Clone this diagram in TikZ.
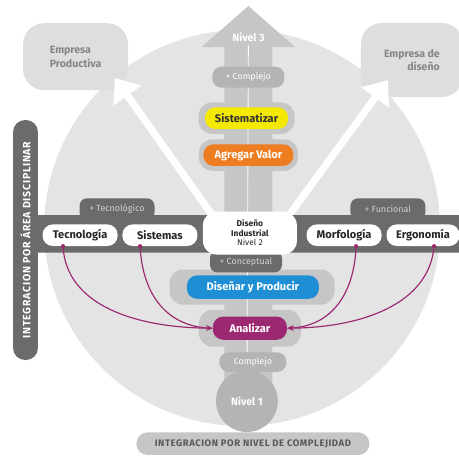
\documentclass[tikz,border=0pt]{standalone}
\usepackage{fontspec}
\setmainfont{Fira Sans}
\setsansfont{Fira Sans}
\usetikzlibrary{arrows.meta, calc}
\definecolor{c1}{HTML}{6B6B6B}
\definecolor{c2}{HTML}{E4E4E4}
\definecolor{c3}{HTML}{C6C6C6}
\definecolor{c4}{HTML}{B4B4B4}
\definecolor{c5}{HTML}{DEDEDE}
\definecolor{amar}{HTML}{F4E900}
\definecolor{nara}{HTML}{EE7D22}
\definecolor{azul}{HTML}{1E8FD5}
\definecolor{morado}{HTML}{9B2870}
\definecolor{textgray}{HTML}{858585}

\begin{document}
\begin{tikzpicture}[
    every node/.style={font=\sffamily},
    pill/.style={rectangle, rounded corners=0.34cm, minimum height=0.72cm,
                 inner sep=2pt, font=\sffamily\bfseries\fontsize{10.5}{12}\selectfont},
    area/.style={pill, fill=white, text=black!85, minimum width=2.5cm},
    paso/.style={pill, text=white},
    halo/.style={rectangle, rounded corners=0.45cm, fill=c3},
    tab/.style={rectangle, rounded corners=0.25cm, fill=c1, text=c3!80,
                minimum height=0.72cm, minimum width=2.5cm,
                font=\sffamily\fontsize{8.5}{10}\selectfont},
    gris/.style={rectangle, rounded corners=0.3cm, fill=c4, text=white,
                 minimum height=0.65cm, font=\sffamily\fontsize{8.5}{10}\selectfont},
    empresa/.style={rectangle, rounded corners=0.7cm, fill=c5, text=textgray,
                    font=\sffamily\bfseries\fontsize{10}{13}\selectfont},
    flecha/.style={-{Triangle[length=0.72cm, width=1.10cm]}, white, line width=0.24cm},
    liga/.style={-{Stealth[length=6pt, width=5pt]}, morado, line width=1.1pt},
]
\useasboundingbox (0,0) rectangle (15.30,15.17);

% fondo
\fill[c2] (8.07,7.57) circle (6.60);

\node[empresa, minimum width=3.50cm, minimum height=2.23cm, align=left] (ep)
     at (2.52,13.28) {Empresa\\Productiva};
\node[empresa, minimum width=3.40cm, minimum height=2.47cm, align=right] (ed)
     at (13.73,13.17) {Empresa de\\dise\~no};

% ============================================================ eje vertical
\fill[c3] (7.48,1.83) -- (7.48,13.60) -- (6.72,13.60) -- (8.28,14.97)
          -- (9.84,13.60) -- (9.08,13.60) -- (9.08,1.83) -- cycle;
\node[text=white, font=\sffamily\bfseries\fontsize{10}{12}\selectfont] (n3)
     at (8.28,13.93) {Nivel 3};

\node[halo, minimum width=3.20cm, minimum height=1.05cm] (hsis) at (8.22,11.23) {};
\node[halo, minimum width=3.30cm, minimum height=1.05cm] (hagr) at (8.28,10.00) {};
\node[halo, minimum width=5.50cm, minimum height=1.17cm] (hdip) at (8.40,5.60) {};
\node[halo, minimum width=3.40cm, minimum height=1.23cm] (hana) at (8.33,4.23) {};

\node[circle, fill=c4, minimum size=2.06cm, text=white,
      font=\sffamily\bfseries\fontsize{10}{12}\selectfont] (n1) at (8.23,1.80) {Nivel 1};

\draw[white, line width=0.8pt] (n3) -- (n1);

% flechas a las empresas
\coordinate (baseL) at (7.13,7.92);
\coordinate (baseR) at (9.58,7.92);
\coordinate (puntaL) at (3.83,12.57);
\coordinate (puntaR) at (12.93,12.50);
\draw[flecha] (baseL) -- (puntaL);
\draw[flecha] (baseR) -- (puntaR);

% ========================================================= banda horizontal
\node[tab] (ttec) at (3.90,8.20) {+ Tecnol\'ogico};
\node[tab] (tfun) at (12.93,8.20) {+ Funcional};
\node[tab, minimum width=2.40cm] (tcon) at (8.20,6.45) {+ Conceptual};
\fill[c1, rounded corners=0.30cm] (0.90,6.75) rectangle (15.70,8.00);

\node[rectangle, rounded corners=0.40cm, fill=c1, text=white, rotate=90,
      minimum width=8.00cm, minimum height=0.83cm,
      font=\sffamily\bfseries\fontsize{10}{11}\selectfont\addfontfeatures{LetterSpace=7}] (barra)
     at (0.85,7.17) {INTEGRACION POR \'AREA DISCIPLINAR};

\node[area] (tec) at (2.67,7.33) {Tecnolog\'ia};
\node[area] (sist) at (5.33,7.33) {Sistemas};
\node[area] (mor) at (11.47,7.33) {Morfolog\'ia};
\node[area, minimum width=2.43cm] (erg) at (14.10,7.33) {Ergonom\'ia};
\node[rectangle, rounded corners=0.45cm, fill=white, text=black!85,
      minimum width=3.13cm, minimum height=1.43cm, align=center,
      font=\sffamily\bfseries\fontsize{8}{9}\selectfont] (dis)
     at (8.33,7.40) {Dise\~no\\Industrial\\{\mdseries Nivel 2}};

% ================================================================ pasos
\node[gris, minimum width=2.40cm, minimum height=0.70cm] (cmp) at (8.28,12.60) {+ Complejo};
\node[pill, fill=amar, text=black!80, minimum width=2.77cm] (sis) at (8.22,11.23) {Sistematizar};
\node[paso, fill=nara, minimum width=3.00cm] (agr) at (8.28,10.00) {Agregar Valor};
\node[paso, fill=azul, minimum width=4.40cm, minimum height=0.78cm] (dip) at (8.43,5.60) {Dise\~nar y Producir};
\node[paso, fill=morado, minimum width=2.47cm, minimum height=0.77cm] (ana) at (8.33,4.23) {Analizar};
\node[gris, minimum width=2.23cm] (cpj) at (8.43,3.10) {Complejo};

\node[rectangle, rounded corners=0.37cm, fill=c3, text=black!65,
      minimum width=7.77cm, minimum height=0.75cm,
      font=\sffamily\bfseries\fontsize{9}{10}\selectfont\addfontfeatures{LetterSpace=6}] (pie)
     at (8.43,0.38) {INTEGRACION POR NIVEL DE COMPLEJIDAD};

% relaciones hacia analizar
\draw[liga] ([xshift=-0.57cm]tec.south) .. controls (2.20,5.00) and (4.50,4.25) .. (ana.west);
\draw[liga] ([xshift=-0.66cm]sist.south) .. controls (4.75,5.30) and (5.60,4.30) .. (ana.west);
\draw[liga] ([xshift=0.40cm]mor.south) .. controls (11.80,5.30) and (11.00,4.30) .. (ana.east);
\draw[liga] ([xshift=0.37cm]erg.south) .. controls (14.30,5.00) and (12.00,4.25) .. (ana.east);
\fill[morado] ([xshift=-0.57cm]tec.south) circle (2pt);
\fill[morado] ([xshift=-0.66cm]sist.south) circle (2pt);
\fill[morado] ([xshift=0.40cm]mor.south) circle (2pt);
\fill[morado] ([xshift=0.37cm]erg.south) circle (2pt);

\end{tikzpicture}
\end{document}
